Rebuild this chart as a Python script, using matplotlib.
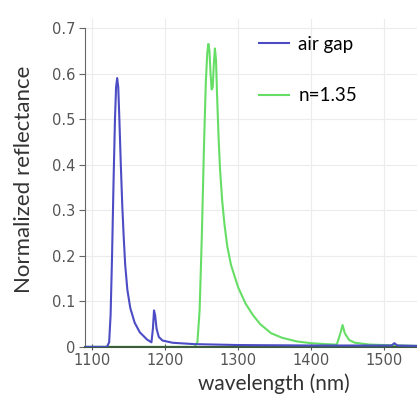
import matplotlib
matplotlib.use("Agg")
import matplotlib.pyplot as plt

# air gap spectrum (wavelength nm, normalized reflectance)
air_wl = [1090, 1120, 1123, 1125, 1127, 1129, 1131, 1132.5, 1134, 1135.5,
          1137, 1139, 1141, 1143, 1145, 1148, 1152, 1158, 1165, 1175, 1181,
          1183, 1184.5, 1186, 1188, 1191, 1196, 1210, 1240, 1300, 1400, 1510,
          1514, 1518, 1550]
air_r = [0.0, 0.0, 0.01, 0.07, 0.2, 0.36, 0.5, 0.57, 0.59, 0.57,
         0.5, 0.4, 0.31, 0.24, 0.18, 0.125, 0.085, 0.053, 0.032, 0.016, 0.01,
         0.04, 0.08, 0.07, 0.04, 0.022, 0.014, 0.009, 0.006, 0.004, 0.003,
         0.003, 0.008, 0.003, 0.002]

# n=1.35 spectrum
n_wl = [1090, 1240, 1244, 1247, 1250, 1253, 1255.5, 1257.5, 1259, 1260.5,
        1262, 1263.5, 1265, 1266.5, 1268, 1269.5, 1271, 1273, 1275, 1278,
        1281, 1285, 1290, 1300, 1310, 1320, 1330, 1345, 1360, 1380, 1400,
        1420, 1435, 1440, 1443, 1446, 1452, 1460, 1480, 1520, 1550]
n_r = [0.0, 0.0, 0.01, 0.08, 0.24, 0.44, 0.58, 0.645, 0.665, 0.65,
       0.6, 0.565, 0.57, 0.62, 0.655, 0.63, 0.55, 0.46, 0.39, 0.32,
       0.27, 0.22, 0.18, 0.13, 0.095, 0.07, 0.05, 0.03, 0.02, 0.012, 0.008,
       0.006, 0.005, 0.03, 0.048, 0.03, 0.015, 0.009, 0.005, 0.003, 0.002]

x_ticks = [1100, 1200, 1300, 1400, 1500]
y_ticks = [0, 0.1, 0.2, 0.3, 0.4, 0.5, 0.6, 0.7]
y_labels = ["0", "0.1", "0.2", "0.3", "0.4", "0.5", "0.6", "0.7"]

fig = plt.figure(figsize=(4.17, 4.01), dpi=100)
ax = fig.add_axes([0.204, 0.135, 0.796, 0.818])

ax.plot(n_wl, n_r, color="#66de66", lw=1.5, label="n=1.35", zorder=2)
ax.plot(air_wl, air_r, color="#4c4cc4", lw=1.5, label="air gap", zorder=3)

ax.set_xlim(1090, 1545)
ax.set_ylim(0, 0.72)
ax.set_xticks(x_ticks)
ax.set_yticks(y_ticks)
ax.set_yticklabels(y_labels)
ax.grid(True, color="#ececec", lw=0.8)
ax.set_axisbelow(True)

for s in ["top", "right"]:
    ax.spines[s].set_visible(False)
ax.spines["left"].set_bounds(0, 0.7)
ax.spines["left"].set_color("#666666")
ax.spines["bottom"].set_color("#3c5c3c")
ax.spines["bottom"].set_linewidth(1.5)
ax.tick_params(axis="y", direction="out", length=4, color="#666666",
               labelsize=10.5, labelcolor="#555555", pad=3)
ax.tick_params(axis="x", direction="inout", length=5, color="#555555",
               labelsize=10.5, labelcolor="#555555", pad=2)

ax.set_xlabel("wavelength (nm)", fontsize=15, family="Lato", color="#333333")
ax.xaxis.set_label_coords(0.57, -0.082)
ax.set_ylabel("Normalized reflectance", fontsize=16, family="Lato",
              color="#333333")
ax.yaxis.set_label_coords(-0.155, 0.51)

handles, labels = ax.get_legend_handles_labels()
ax.legend(handles[::-1], labels[::-1], loc="upper right",
          bbox_to_anchor=(0.87, 1.0), frameon=False, handlelength=1.6,
          handletextpad=0.5, labelspacing=1.85,
          prop={"family": "Lato", "size": 13.5})

fig.savefig("out.png", dpi=100)
